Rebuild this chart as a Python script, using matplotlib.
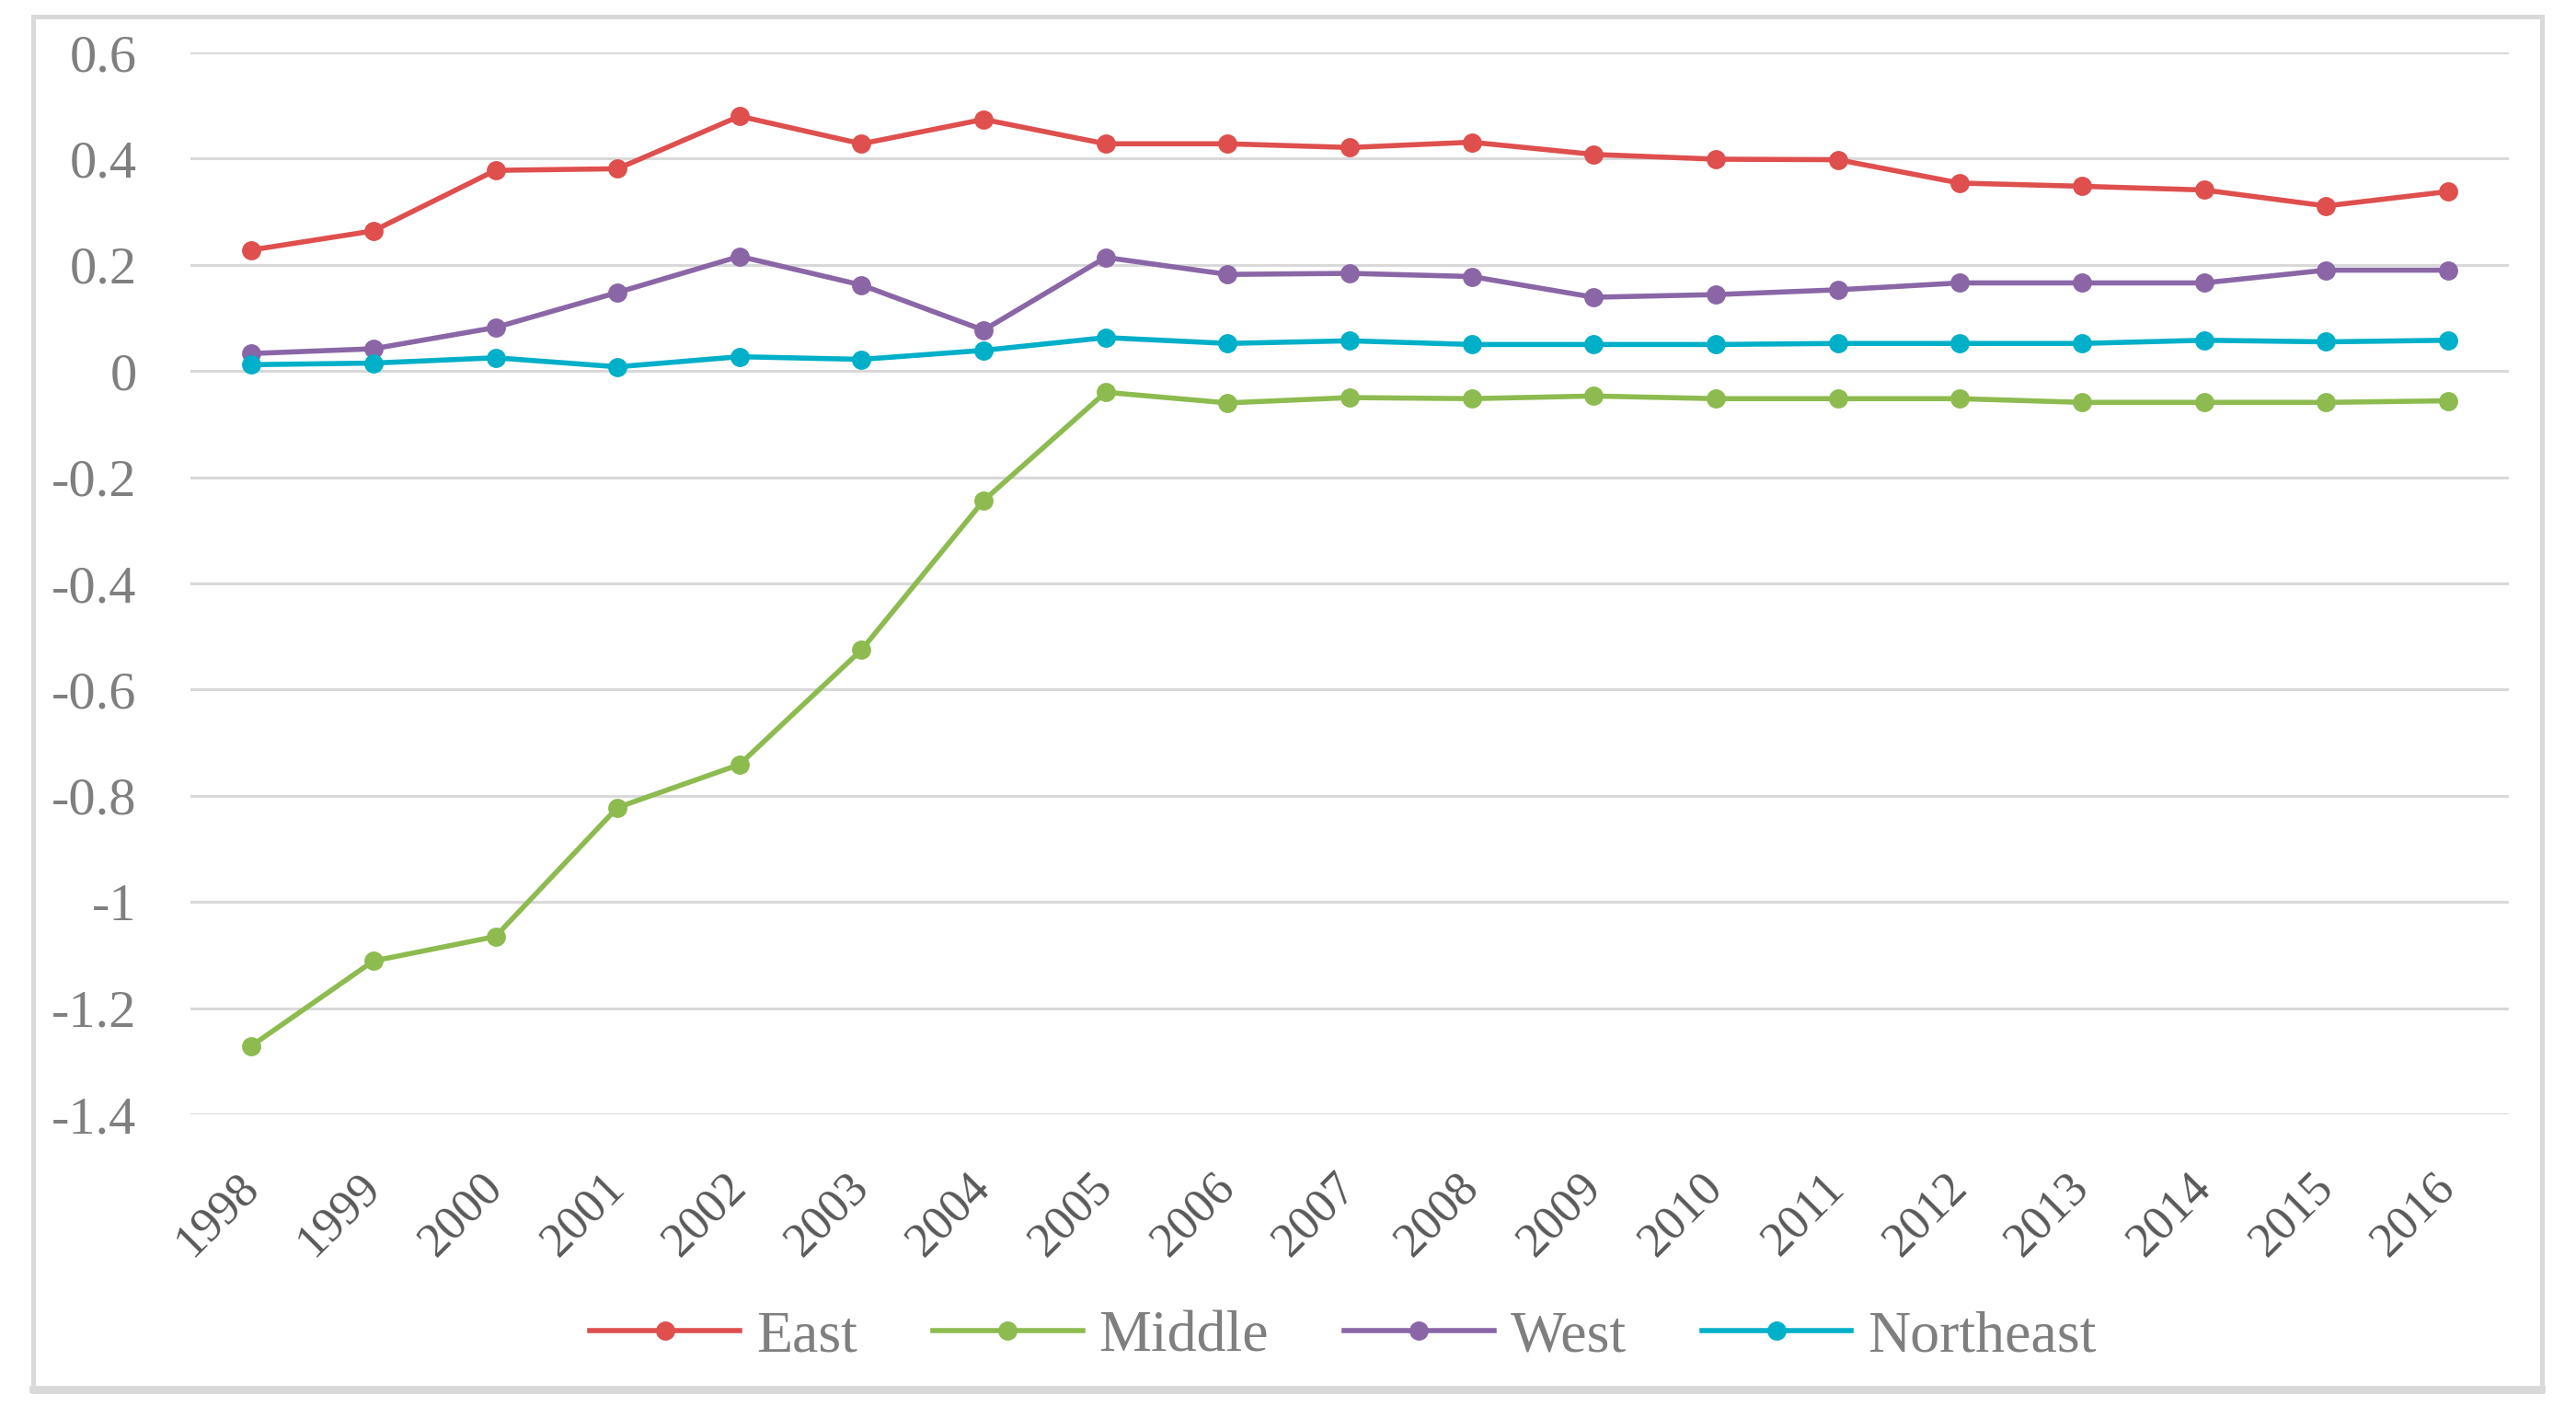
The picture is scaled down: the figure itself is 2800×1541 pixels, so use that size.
import matplotlib.pyplot as plt
from matplotlib.patches import Rectangle
from matplotlib.lines import Line2D

years = [str(y) for y in range(1998, 2017)]

east = [0.228, 0.264, 0.378, 0.381, 0.480, 0.428, 0.474, 0.428, 0.428, 0.421,
        0.431, 0.408, 0.399, 0.398, 0.354, 0.348, 0.341, 0.311, 0.338]
middle = [-1.271, -1.111, -1.065, -0.822, -0.741, -0.525, -0.244, -0.040, -0.060, -0.050,
          -0.052, -0.047, -0.052, -0.052, -0.052, -0.059, -0.059, -0.059, -0.056]
west = [0.033, 0.042, 0.082, 0.148, 0.216, 0.162, 0.077, 0.214, 0.182, 0.184,
        0.178, 0.139, 0.144, 0.153, 0.166, 0.166, 0.166, 0.190, 0.190]
northeast = [0.012, 0.015, 0.025, 0.008, 0.027, 0.022, 0.039, 0.063, 0.052, 0.057,
             0.050, 0.050, 0.050, 0.052, 0.052, 0.052, 0.058, 0.055, 0.058]

y_ticks = [0.6, 0.4, 0.2, 0, -0.2, -0.4, -0.6, -0.8, -1, -1.2, -1.4]
y_labels = ['0.6', '0.4', '0.2', '0', '-0.2', '-0.4', '-0.6', '-0.8', '-1', '-1.2', '-1.4']

series_names = ['East', 'Middle', 'West', 'Northeast']
colors = ['#DE4F4D', '#8DBB4F', '#8A66A7', '#00AFC8']

plt.rcParams['font.family'] = ['Liberation Serif', 'DejaVu Serif']

fig = plt.figure(figsize=(14, 7.705), dpi=200)

# chart area border (light grey, heavier at the bottom)
fig.patches.append(Rectangle((0.0129, 0.0188), 0.974, 0.9695, transform=fig.transFigure,
                             fill=False, edgecolor='#D9D9D9', linewidth=1.8))
fig.lines.append(Line2D([0.0129, 0.9869], [0.0200, 0.0200], transform=fig.transFigure,
                        color='#D9D9D9', linewidth=2.8))

ax = fig.add_axes([0.0739, 0.2141, 0.9001, 0.7489])

x = list(range(len(years)))
for vals, name, c in zip([east, middle, west, northeast], series_names, colors):
    ax.plot(x, vals, color=c, linewidth=2.0, marker='o', markersize=6.5, label=name)

ax.set_xlim(-0.5, len(years) - 0.5)
ax.set_ylim(-1.4, 0.6)
ax.set_yticks(y_ticks)
ax.set_yticklabels(y_labels)
ax.set_xticks(x)
ax.set_xticklabels(years, rotation=45, ha='right', va='center', rotation_mode='anchor')

ax.grid(axis='y', color='#D9D9D9', linewidth=1.1)
ax.set_axisbelow(True)
for s in ax.spines.values():
    s.set_visible(False)

ax.tick_params(axis='y', length=0, pad=21, labelsize=21, labelcolor='#7F7F7F')
ax.tick_params(axis='x', length=0, pad=26, labelsize=19, labelcolor='#595959')

leg = fig.legend(loc='center', bbox_to_anchor=(0.5214, 0.0571), ncol=4, frameon=False,
                 fontsize=23, handlelength=2.55, handletextpad=0.28, columnspacing=1.28,
                 borderaxespad=0)
for t in leg.get_texts():
    t.set_color('#7F7F7F')

fig.savefig('out.png', dpi=200)
